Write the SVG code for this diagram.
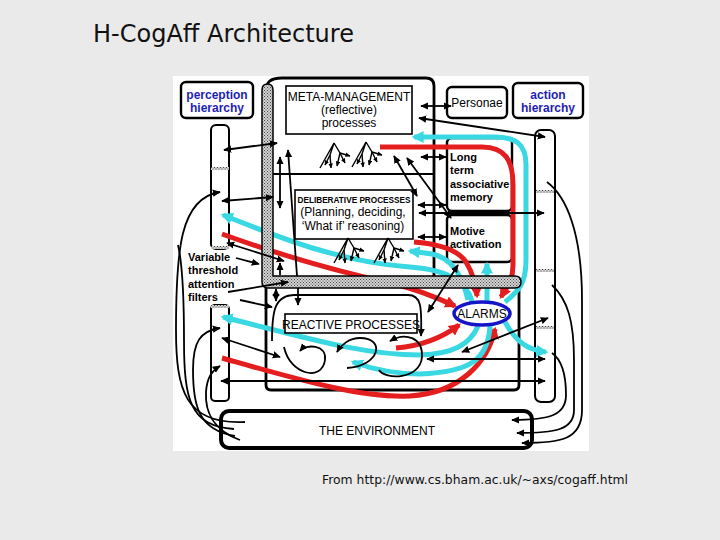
<svg xmlns="http://www.w3.org/2000/svg" width="720" height="540" viewBox="0 0 720 540">
<style>
.t{font-family:"Liberation Sans",Arial,sans-serif;fill:#000}
.b{font-weight:bold}
.blue{fill:#1e1eb4;font-weight:bold}
.box{fill:#fff;stroke:#000;stroke-width:1.6}
.rbox{fill:#fff;stroke:#000;stroke-width:2.4}
.ln{fill:none;stroke:#000;stroke-width:1.8}
.frame{fill:none;stroke:#000;stroke-width:2.8}
.red{fill:none;stroke:#e41e1e;stroke-width:5;marker-end:url(#ar)}
.cyan{fill:none;stroke:#3ad8e2;stroke-width:5;marker-end:url(#ac)}
.e{marker-end:url(#a)}
.s{marker-start:url(#a)}
.tr{fill:none;stroke:#000;stroke-width:1.4}
.ta{marker-end:url(#ta)}
</style>
<defs>
<pattern id="stip" width="3" height="3" patternUnits="userSpaceOnUse"><rect width="3" height="3" fill="#d4d4d4"/><rect width="1" height="1" fill="#444"/><rect x="1.5" y="1.5" width="1" height="1" fill="#444"/></pattern>
<marker id="a" viewBox="0 0 10 10" refX="9" refY="5" markerWidth="8" markerHeight="8" markerUnits="userSpaceOnUse" orient="auto-start-reverse"><path d="M0,0.5 L10,5 L0,9.5 z" fill="#000"/></marker>
<marker id="ta" viewBox="0 0 10 10" refX="9" refY="5" markerWidth="5" markerHeight="5" markerUnits="userSpaceOnUse" orient="auto"><path d="M0,0.5 L10,5 L0,9.5 z" fill="#000"/></marker>
<marker id="ar" viewBox="0 0 10 10" refX="8" refY="5" markerWidth="12" markerHeight="12" markerUnits="userSpaceOnUse" orient="auto"><path d="M0,0 L10,5 L0,10 z" fill="#e41e1e"/></marker>
<marker id="ac" viewBox="0 0 10 10" refX="8" refY="5" markerWidth="12" markerHeight="12" markerUnits="userSpaceOnUse" orient="auto"><path d="M0,0 L10,5 L0,10 z" fill="#3ad8e2"/></marker>
<g id="tree">
<path class="tr" d="M0,0 L-14,25 M0,0 L-4,12 M0,0 L6,10"/>
<path class="tr ta" d="M-4,12 L-9,22"/>
<path class="tr ta" d="M-4,12 L-3,25"/>
<path class="tr ta" d="M6,10 L3,23"/>
<path class="tr ta" d="M6,10 L11,20"/>
<path class="tr ta" d="M6,10 L16,13"/>
</g>
<rect id="hatch" width="18" height="3" fill="url(#stip)"/>
</defs>

<rect width="720" height="540" fill="#eaeaea"/>
<text class="t" x="93" y="42" style="font-family:'DejaVu Sans',Verdana,sans-serif;font-size:24px;fill:#111">H-CogAff Architecture</text>
<rect x="173" y="76" width="416" height="375" fill="#fff"/>

<g id="frames">
<path class="frame" d="M266,92 C266,82 270,78 282,78 L426,78 Q434,78 434,86 L434,277"/>
<path class="ln" stroke-width="2.4" d="M273,174 L434,174"/>
<path class="frame" stroke-width="2.4" d="M266,288 L266,385 Q266,390 271,390 L514,390 Q519,390 519,385 L519,288"/>
</g>

<g id="perception-column">
<rect x="211" y="125" width="18" height="124" rx="5" fill="#fff" stroke="#000" stroke-width="2"/>
<rect x="211" y="305" width="18" height="96" rx="4" fill="#fff" stroke="#000" stroke-width="2"/>
<use href="#hatch" x="211" y="167"/>
<use href="#hatch" x="211" y="246"/>
<use href="#hatch" x="211" y="305"/>
</g>
<g id="action-column">
<rect x="535" y="130" width="20" height="272" rx="6" fill="#fff" stroke="#000" stroke-width="2"/>
<use href="#hatch" x="536" y="190"/>
<use href="#hatch" x="536" y="269"/>
<use href="#hatch" x="536" y="326"/>
</g>

<g id="long-term-memory">
<rect class="rbox" x="447" y="138" width="65" height="73" rx="5" stroke-width="2"/>
<text class="t b" x="450" y="161" font-size="11">Long</text>
<text class="t b" x="450" y="174" font-size="11">term</text>
<text class="t b" x="450" y="188" font-size="11">associative</text>
<text class="t b" x="450" y="201" font-size="11">memory</text>
</g>
<g id="motive-activation">
<rect class="rbox" x="447" y="215" width="65" height="47" rx="5" stroke-width="2"/>
<text class="t b" x="450" y="235" font-size="11">Motive</text>
<text class="t b" x="450" y="248" font-size="11">activation</text>
</g>

<g id="strands">
<path class="red" d="M380,147 L482,147 C505,147 513,160 513,185 L513,265 C513,281 506,288 501,297"/>
<path class="red" d="M414,242 C440,244 458,250 466,262 C472,272 476,284 477,296"/>
<path class="red" d="M222,234 C280,255 340,272 390,283 C420,290 438,298 455,306"/>
<path class="red" d="M396,348 C420,346 442,338 459,325"/>
<path class="red" d="M222,358 C300,380 360,398 410,396 C460,393 488,362 495,329"/>
<path class="cyan" d="M505,302 C520,290 526,282 526,260 L526,165 C526,144 516,137 494,137 L414,137"/>
<path class="cyan" d="M468,300 C462,275 452,258 432,254 L410,251"/>
<path class="cyan" d="M472,301 C466,282 450,270 410,267 C340,262 280,238 223,215"/>
<path class="cyan" d="M487,302 L487,264"/>
<path class="cyan" d="M478,326 C470,345 452,354 420,355 C360,355 300,336 223,317"/>
<path class="cyan" d="M490,326 C488,360 470,372 420,374 C392,374 372,369 353,362"/>
<path class="cyan" d="M505,322 C515,340 526,350 546,352"/>
</g>

<g id="bar">
<path d="M262,90 Q262,84 267.5,84 Q273,84 273,90 L273,276 L515,276 Q521,276 521,282 Q521,288 515,288 L268,288 Q262,288 262,282 Z" fill="url(#stip)" stroke="#000" stroke-width="1.5"/>
</g>

<g id="perception-hierarchy">
<rect class="rbox" x="181" y="82" width="72" height="36" rx="5"/>
<text class="t blue" x="217" y="99" font-size="12" text-anchor="middle">perception</text>
<text class="t blue" x="217" y="112" font-size="12" text-anchor="middle">hierarchy</text>
</g>
<g id="action-hierarchy">
<rect class="rbox" x="513" y="83" width="70" height="35" rx="5"/>
<text class="t blue" x="548" y="99" font-size="12" text-anchor="middle">action</text>
<text class="t blue" x="548" y="112" font-size="12" text-anchor="middle">hierarchy</text>
</g>
<g id="personae">
<rect class="rbox" x="447" y="87" width="60" height="31" rx="5"/>
<text class="t" x="477" y="107" font-size="12" text-anchor="middle">Personae</text>
</g>
<g id="meta-management">
<rect class="box" x="286" y="86" width="126" height="48"/>
<text class="t" x="349" y="101" font-size="12" text-anchor="middle">META-MANAGEMENT</text>
<text class="t" x="349" y="114" font-size="12" text-anchor="middle">(reflective)</text>
<text class="t" x="349" y="127" font-size="12" text-anchor="middle">processes</text>
</g>
<g id="deliberative">
<rect class="box" x="295" y="190" width="118" height="49"/>
<text class="t b" x="354" y="203" font-size="9" text-anchor="middle" textLength="113" lengthAdjust="spacingAndGlyphs">DELIBERATIVE PROCESSES</text>
<text class="t" x="353" y="216" font-size="12" text-anchor="middle">(Planning, deciding,</text>
<text class="t" x="353" y="230" font-size="12" text-anchor="middle">‘What if’ reasoning)</text>
</g>
<g id="reactive">
<rect class="box" x="285" y="314" width="132" height="19"/>
<text class="t" x="351" y="329" font-size="12" text-anchor="middle">REACTIVE PROCESSES</text>
</g>
<g id="alarms">
<ellipse cx="482" cy="313.5" rx="28" ry="11.5" fill="#fff" stroke="#1414c8" stroke-width="3.5"/>
<text class="t" x="482" y="318" font-size="12" text-anchor="middle">ALARMS</text>
</g>
<g id="environment">
<rect x="221" y="411" width="311" height="37" rx="8" fill="#fff" stroke="#000" stroke-width="4"/>
<text class="t" x="377" y="435" font-size="12" text-anchor="middle">THE ENVIRONMENT</text>
</g>
<g id="filters-label">
<text class="t b" x="188" y="261" font-size="11">Variable</text>
<text class="t b" x="188" y="274" font-size="11">threshold</text>
<text class="t b" x="188" y="288" font-size="11">attention</text>
<text class="t b" x="188" y="301" font-size="11">filters</text>
</g>

<g id="trees">
<use href="#tree" x="334" y="143"/>
<use href="#tree" x="366" y="142"/>
<use href="#tree" x="348" y="238"/>
<use href="#tree" x="388" y="238"/>
</g>

<g id="connectors">
<path class="ln e s" d="M421,106 L451,106"/>
<path class="ln e s" d="M419,118 L545,137"/>
<path class="ln e s" d="M421,157 L446,157"/>
<path class="ln e s" d="M418,205 L446,205"/>
<path class="ln e s" d="M419,213 L544,213"/>
<path class="ln e s" d="M418,237 L446,237"/>
<path class="ln e s" d="M394,156 L417,196"/>
<path class="ln e s" d="M407,158 L451,218"/>
<path class="ln e s" d="M458,265 L428,312"/>
<path class="ln e s" d="M224,150 L277,143"/>
<path class="ln e s" d="M222,201 L273,197"/>
<path class="ln e s" d="M280,157 L280,208"/>
<path class="ln e" d="M297,276 L288,150"/>
<path class="ln e" d="M236,258 L259,264"/>
<path class="ln e" d="M228,292 L288,282"/>
<path class="ln e" d="M240,300 L272,307"/>
<path class="ln e s" d="M227,243 L284,261"/>
<path class="ln e" d="M280,275 L280,263"/>
<path class="ln e s" d="M276,289 L276,301"/>
<path class="ln e" d="M298,288 L298,305"/>
<path class="ln e s" d="M222,338 L280,357"/>
<path class="ln e s" d="M221,381 L545,381"/>
<path class="ln e s" d="M427,359 L545,359"/>
<path class="ln e s" d="M462,352 L548,318"/>
<path class="ln e" d="M272,341 C272,312 274,295 295,295 L408,295 C421,295 422,306 421,336"/>
<path class="ln e" d="M284,347 C290,375 322,382 325,360 C327,344 306,344 300,351"/>
<path class="ln e" d="M347,368 C380,366 386,338 360,338 C349,338 341,345 337,352"/>
<path class="ln e" d="M379,370 C385,380 420,380 422,357 C423,337 405,332 390,341"/>
<path class="ln e" stroke-width="1.5" d="M245,422 C185,425 176,390 176,330 C176,250 180,198 220,192"/>
<path class="ln" stroke-width="1.5" d="M234,429 C190,426 184,400 184,340 C184,290 182,262 178,245"/>
<path class="ln e" stroke-width="1.5" d="M235,436 C198,430 193,405 193,370 C193,342 200,331 220,328"/>
<path class="ln e" stroke-width="1.5" d="M240,440 C212,430 205,410 206,392 C207,377 212,371 220,366"/>
<path class="ln e" stroke-width="1.5" d="M547,182 C566,196 582,232 582,300 L582,410 C582,440 560,443 522,443"/>
<path class="ln e" stroke-width="1.5" d="M552,285 C568,300 574,322 574,360 L574,410 C574,430 555,433 517,433"/>
<path class="ln e" stroke-width="1.5" d="M552,353 C562,360 566,375 566,395 C566,415 550,420 512,420"/>
</g>

<text x="322" y="484" style="font-family:'DejaVu Sans',Verdana,sans-serif;font-size:12px;fill:#111" textLength="306" lengthAdjust="spacingAndGlyphs">From http://www.cs.bham.ac.uk/~axs/cogaff.html</text>
</svg>
